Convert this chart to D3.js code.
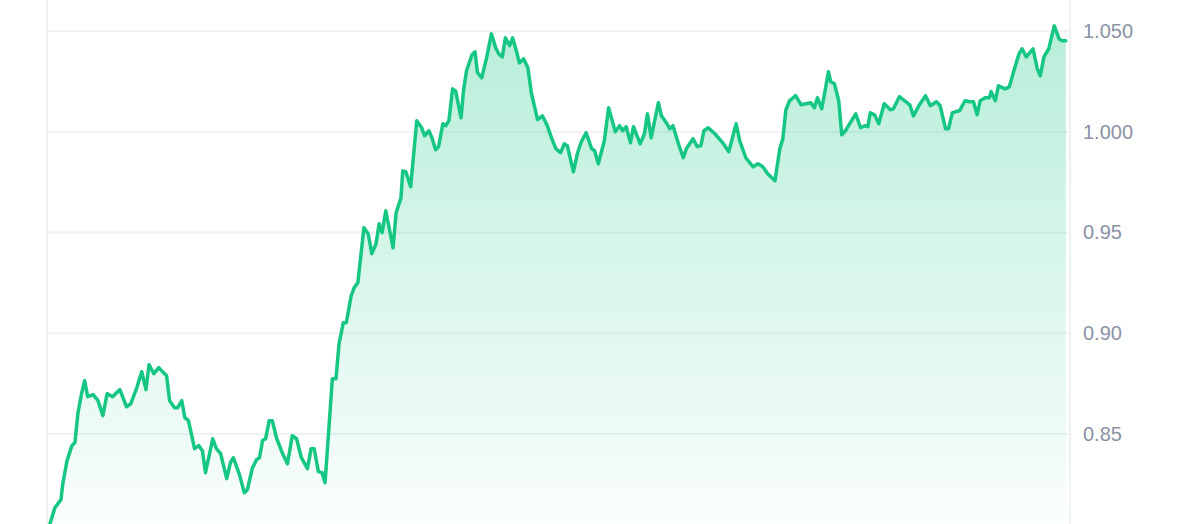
<!DOCTYPE html>
<html>
<head>
<meta charset="utf-8">
<script src="https://cdn.jsdelivr.net/npm/d3@7"></script>
<style>
  html, body { margin: 0; padding: 0; background: #fff; }
  svg { display: block; }
</style>
</head>
<body>
<div id="chart"></div>
<script>
// hours since the start of the 7 day window
const hours = [
  0.5, 1.3, 2.3, 2.6, 3.3, 4.1, 4.6, 5.1, 5.7, 6.2, 6.7, 7.6, 8.4, 9.2, 9.9, 10.8, 12.0, 13.1, 13.8, 14.8,
  15.6, 16.3, 16.8, 17.6, 18.4, 19.7, 20.2, 21.0, 21.5, 22.2, 22.7, 23.3, 24.3, 25.0, 25.6, 26.1, 27.3, 27.9, 28.6, 29.6,
  30.2, 30.7, 31.7, 32.5, 33.0, 33.8, 34.5, 35.0, 35.5, 36.0, 36.6, 37.1, 37.8, 38.6, 39.6, 40.4, 41.1, 41.9, 42.9, 43.5,
  44.0, 44.7, 45.3, 45.8, 47.0, 47.6, 48.1, 48.8, 49.3, 50.1, 50.6, 51.2, 52.2, 52.9, 53.5, 54.2, 54.7, 55.2, 55.8, 57.0,
  57.5, 58.3, 58.6, 59.1, 59.9, 60.9, 61.7, 62.2, 62.9, 63.4, 64.0, 64.5, 65.2, 65.7, 66.2, 66.8, 67.3, 68.2, 68.6, 69.1,
  70.0, 70.5, 70.9, 71.6, 72.4, 73.2, 73.9, 74.4, 75.0, 75.5, 76.2, 76.7, 77.3, 77.8, 78.5, 79.2, 79.8, 80.8, 81.6, 82.4,
  83.1, 83.8, 84.6, 85.2, 85.7, 86.7, 87.4, 88.0, 88.8, 89.7, 90.2, 90.8, 91.8, 92.5, 93.6, 94.3, 94.8, 95.4, 96.1, 96.6,
  97.7, 98.4, 98.9, 99.5, 100.7, 101.2, 102.0, 102.6, 103.1, 104.0, 104.8, 105.3, 106.4, 107.1, 107.7, 108.2, 108.9, 110.0, 111.3, 112.3,
  113.5, 114.1, 115.1, 116.3, 117.1, 117.9, 118.7, 119.9, 120.7, 121.2, 121.7, 122.3, 123.3, 124.2, 125.8, 126.4, 126.9, 127.6, 128.1, 128.7,
  129.1, 129.7, 130.4, 130.9, 131.5, 133.2, 134.0, 134.7, 135.2, 135.6, 136.3, 137.0, 137.9, 138.9, 139.4, 140.4, 142.1, 142.7, 143.7, 144.7,
  145.5, 146.5, 147.1, 148.0, 148.5, 149.1, 149.6, 150.3, 151.2, 151.9, 152.6, 153.2, 153.7, 154.5, 155.2, 155.5, 156.2, 156.7, 157.8, 158.5,
  159.3, 160.1, 160.6, 161.3, 162.4, 163.1, 163.6, 164.2, 165.0, 165.9, 166.7, 167.2, 167.8
]

const prices = [
  0.8055, 0.8134, 0.8174, 0.8253, 0.8367, 0.8442, 0.8457, 0.8605, 0.8700, 0.8764, 0.8685, 0.8695, 0.8665, 0.8591, 0.8700, 0.8685, 0.8720, 0.8635, 0.8650, 0.8730,
  0.8809, 0.8720, 0.8844, 0.8799, 0.8829, 0.8789, 0.8665, 0.8630, 0.8630, 0.8665, 0.8581, 0.8566, 0.8427, 0.8442, 0.8417, 0.8308, 0.8476, 0.8427, 0.8402, 0.8278,
  0.8357, 0.8382, 0.8298, 0.8208, 0.8223, 0.8328, 0.8372, 0.8382, 0.8467, 0.8476, 0.8566, 0.8566, 0.8481, 0.8417, 0.8352, 0.8491, 0.8476, 0.8382, 0.8328, 0.8427,
  0.8427, 0.8313, 0.8308, 0.8258, 0.8774, 0.8774, 0.8948, 0.9052, 0.9052, 0.9186, 0.9226, 0.9251, 0.9524, 0.9494, 0.9395, 0.9444, 0.9543, 0.9499, 0.9608, 0.9424,
  0.9598, 0.9672, 0.9806, 0.9801, 0.9727, 1.0055, 1.0020, 0.9980, 1.0005, 0.9970, 0.9911, 0.9926, 1.0040, 1.0030, 1.0055, 1.0213, 1.0203, 1.0069, 1.0203, 1.0303,
  1.0382, 1.0397, 1.0293, 1.0268, 1.0367, 1.0486, 1.0417, 1.0387, 1.0372, 1.0466, 1.0427, 1.0466, 1.0402, 1.0342, 1.0362, 1.0318, 1.0189, 1.0060, 1.0079, 1.0030,
  0.9970, 0.9916, 0.9896, 0.9940, 0.9931, 0.9801, 0.9896, 0.9950, 0.9995, 0.9916, 0.9906, 0.9841, 0.9955, 1.0119, 1.0000, 1.0030, 1.0005, 1.0025, 0.9945, 1.0025,
  0.9940, 0.9990, 1.0089, 0.9970, 1.0144, 1.0079, 1.0045, 1.0015, 1.0030, 0.9940, 0.9871, 0.9916, 0.9965, 0.9926, 0.9931, 1.0005, 1.0020, 0.9990, 0.9945, 0.9901,
  1.0040, 0.9955, 0.9871, 0.9826, 0.9841, 0.9826, 0.9792, 0.9757, 0.9916, 0.9965, 1.0109, 1.0154, 1.0179, 1.0134, 1.0144, 1.0119, 1.0169, 1.0114, 1.0194, 1.0298,
  1.0248, 1.0238, 1.0154, 0.9985, 1.0005, 1.0089, 1.0020, 1.0030, 1.0025, 1.0094, 1.0084, 1.0040, 1.0139, 1.0109, 1.0114, 1.0174, 1.0134, 1.0079, 1.0134, 1.0179,
  1.0129, 1.0149, 1.0129, 1.0015, 1.0015, 1.0094, 1.0099, 1.0104, 1.0154, 1.0149, 1.0149, 1.0084, 1.0154, 1.0169, 1.0169, 1.0199, 1.0154, 1.0228, 1.0213, 1.0223,
  1.0308, 1.0387, 1.0412, 1.0372, 1.0412, 1.0313, 1.0278, 1.0372, 1.0412, 1.0526, 1.0461, 1.0452, 1.0452
]

const tickValues = [1.05, 1.0, 0.95, 0.9, 0.85]
const tickLabels = ['1.050', '1.000', '0.95', '0.90', '0.85']

const LINE_COLOR = '#16c784'

const dimensions = {
  width: 1200,
  height: 524,
  margin: {
    top: 0,
    right: 130,
    bottom: 0,
    left: 47
  }
}

const data = hours.map((h, i) => ({ h, price: prices[i] }))

const xScale = d3.scaleLinear()
  .domain([0, 168])
  .range([dimensions.margin.left, dimensions.width - dimensions.margin.right - 3])

const yScale = d3.scaleLinear()
  .domain([0.8053, 1.0654])
  .range([dimensions.height - dimensions.margin.bottom, dimensions.margin.top])

const plotRight = dimensions.width - dimensions.margin.right
const plotLeft = dimensions.margin.left

const svg = d3.select('#chart').append('svg')
  .attr('width', dimensions.width)
  .attr('height', dimensions.height)

const defs = svg.append('defs')
const grad = defs.append('linearGradient')
  .attr('id', 'areaFill')
  .attr('gradientUnits', 'userSpaceOnUse')
  .attr('x1', 0).attr('x2', 0)
  .attr('y1', 0).attr('y2', dimensions.height)
grad.append('stop').attr('offset', '0%').attr('stop-color', LINE_COLOR).attr('stop-opacity', 0.32)
grad.append('stop').attr('offset', '100%').attr('stop-color', LINE_COLOR).attr('stop-opacity', 0.02)

defs.append('clipPath').attr('id', 'plotClip')
  .append('rect')
  .attr('x', plotLeft)
  .attr('y', 0)
  .attr('width', plotRight - plotLeft)
  .attr('height', dimensions.height)

// grid
const grid = svg.append('g')
grid.selectAll('line.h')
  .data(tickValues)
  .join('line')
  .attr('class', 'h')
  .attr('x1', plotLeft)
  .attr('x2', plotRight)
  .attr('y1', d => yScale(d))
  .attr('y2', d => yScale(d))
  .attr('stroke', '#eff2f5')
  .attr('stroke-width', 2)

grid.selectAll('line.v')
  .data([plotLeft, plotRight])
  .join('line')
  .attr('class', 'v')
  .attr('x1', d => d)
  .attr('x2', d => d)
  .attr('y1', 0)
  .attr('y2', dimensions.height)
  .attr('stroke', '#eff2f5')
  .attr('stroke-width', 2)

// area + line
const bounds = svg.append('g').attr('clip-path', 'url(#plotClip)')

const area = d3.area()
  .x(d => xScale(d.h))
  .y0(dimensions.height)
  .y1(d => yScale(d.price))

const line = d3.line()
  .x(d => xScale(d.h))
  .y(d => yScale(d.price))

bounds.append('path')
  .datum(data)
  .attr('d', area)
  .attr('fill', 'url(#areaFill)')

bounds.append('path')
  .datum(data)
  .attr('d', line)
  .attr('fill', 'none')
  .attr('stroke', LINE_COLOR)
  .attr('stroke-width', 3.5)
  .attr('stroke-linejoin', 'round')
  .attr('stroke-linecap', 'round')

// y axis on the right
const yAxis = d3.axisRight(yScale)
  .tickValues(tickValues)
  .tickFormat((d, i) => tickLabels[i])
  .tickSize(0)
  .tickPadding(13)

const yAxisContainer = svg.append('g')
  .attr('transform', `translate(${plotRight}, 0)`)
  .call(yAxis)

yAxisContainer.select('.domain').remove()
yAxisContainer.selectAll('.tick text')
  .attr('fill', '#8a92a5')
  .attr('font-family', '"Liberation Sans", Arial, sans-serif')
  .attr('font-size', 20)
</script>
</body>
</html>
